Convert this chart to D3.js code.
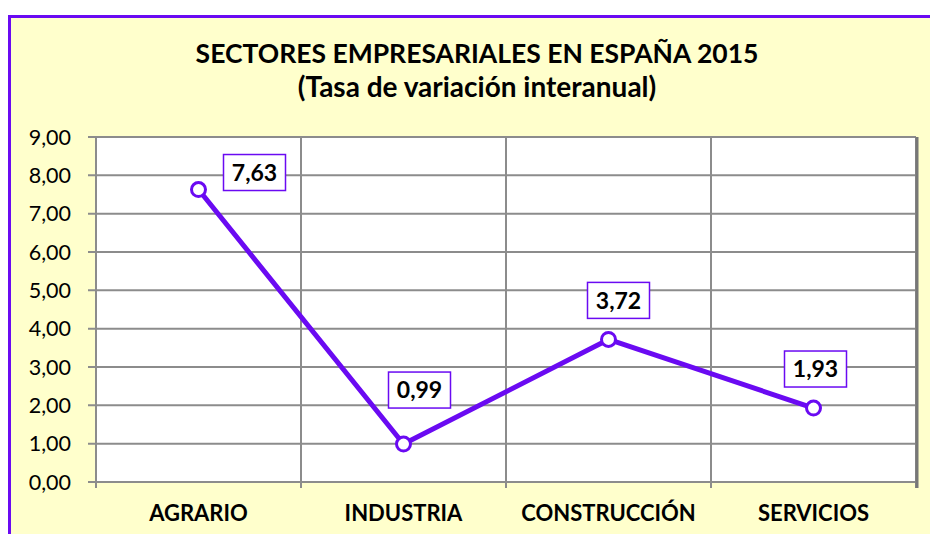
<!DOCTYPE html>
<html>
<head>
<meta charset="utf-8">
<script src="https://cdn.jsdelivr.net/npm/d3@7"></script>
<style>
  body { margin:0; background:#fff; }
  svg { display:block; font-family: Lato, "Open Sans", sans-serif; }
</style>
</head>
<body>
<div id="chart"></div>
<script>
// data
var SECTORES = ["AGRARIO", "INDUSTRIA", "CONSTRUCCIÓN", "SERVICIOS"],
VALORES = [7.63, 0.99, 3.72, 1.93],
Y_TICKS = [0, 1, 2, 3, 4, 5, 6, 7, 8, 9];
// label box offset from the point (dx, dy)
var LABEL_POS = [[56, -17], [16, -54], [10, -39], [2, -39]];

var W = 930, H = 534;
var margin = {top: 137, right: 14, bottom: 52, left: 96},
  width = W - margin.left - margin.right,
  height = H - margin.top - margin.bottom;
var PURPLE = "#6a0af2", GRID = "#8c8c8c";
var fmt = function(v){ return d3.format(".2f")(v).replace(".", ","); };

var svg = d3.select("#chart").append("svg")
  .attr("width", W).attr("height", H);

// chart background + border
svg.append("rect")
  .attr("x", 9.5).attr("y", 16.5)
  .attr("width", W + 20).attr("height", H + 20)
  .attr("fill", "#ffffcc")
  .attr("stroke", PURPLE).attr("stroke-width", 3);

svg.append("text")
  .attr("x", 477).attr("y", 63)
  .attr("text-anchor", "middle")
  .style("font-size", "26.5px").style("font-weight", "bold")
  .text("SECTORES EMPRESARIALES EN ESPAÑA 2015");
svg.append("text")
  .attr("x", 477).attr("y", 97)
  .attr("text-anchor", "middle")
  .style("font-size", "28px").style("font-weight", "bold")
  .text("(Tasa de variación interanual)");

var g = svg.append("g")
  .attr("transform", "translate(" + margin.left + "," + margin.top + ")");

var x = d3.scaleBand().domain(SECTORES).range([0, width]);
var y = d3.scaleLinear().domain([0, 9]).range([height, 0]);

g.append("rect")
  .attr("width", width).attr("height", height)
  .attr("fill", "#fff");

// horizontal grid
g.selectAll(".hgrid").data(Y_TICKS).enter().append("line")
  .attr("x1", -8).attr("x2", width)
  .attr("y1", function(d){ return y(d); })
  .attr("y2", function(d){ return y(d); })
  .attr("stroke", GRID).attr("stroke-width", 2);

// vertical separators
var bounds = SECTORES.map(function(d){ return x(d); }).concat([width]);
g.selectAll(".vgrid").data(bounds).enter().append("line")
  .attr("x1", function(d){ return d; }).attr("x2", function(d){ return d; })
  .attr("y1", 0).attr("y2", height + 6)
  .attr("stroke", GRID).attr("stroke-width", 2);

// right edge shadow
g.append("line")
  .attr("x1", width + 1).attr("x2", width + 1)
  .attr("y1", 0).attr("y2", height + 6)
  .attr("stroke", "#777").attr("stroke-width", 3);

// y axis labels
g.selectAll(".ylab").data(Y_TICKS).enter().append("text")
  .attr("x", -25).attr("y", function(d){ return y(d); })
  .attr("dy", "0.35em")
  .attr("text-anchor", "end")
  .style("font-size", "21.5px")
  .text(fmt);

// x axis labels
g.selectAll(".xlab").data(SECTORES).enter().append("text")
  .attr("x", function(d){ return x(d) + x.bandwidth() / 2; })
  .attr("y", height + 39)
  .attr("text-anchor", "middle")
  .style("font-size", "22px").style("font-weight", "bold")
  .text(function(d){ return d; });

var pts = SECTORES.map(function(d, i){
  return {cx: x(d) + x.bandwidth() / 2, cy: y(VALORES[i]), v: VALORES[i], i: i};
});

g.append("path")
  .datum(pts)
  .attr("fill", "none")
  .attr("stroke", PURPLE).attr("stroke-width", 5)
  .attr("stroke-linejoin", "round")
  .attr("d", d3.line().x(function(d){ return d.cx; }).y(function(d){ return d.cy; }));

g.selectAll(".dot").data(pts).enter().append("circle")
  .attr("cx", function(d){ return d.cx; })
  .attr("cy", function(d){ return d.cy; })
  .attr("r", 7)
  .attr("fill", "#fff")
  .attr("stroke", PURPLE).attr("stroke-width", 3);

// value labels
var lab = g.selectAll(".lab").data(pts).enter().append("g")
  .attr("transform", function(d){
    return "translate(" + (d.cx + LABEL_POS[d.i][0]) + "," + (d.cy + LABEL_POS[d.i][1]) + ")";
  });
lab.append("rect")
  .attr("x", -31).attr("y", -18).attr("width", 62).attr("height", 36)
  .attr("fill", "#fff")
  .attr("stroke", PURPLE).attr("stroke-width", 1.5);
lab.append("text")
  .attr("text-anchor", "middle").attr("dy", "0.36em")
  .style("font-size", "23px").style("font-weight", "bold")
  .text(function(d){ return fmt(d.v); });
</script>
</body>
</html>
